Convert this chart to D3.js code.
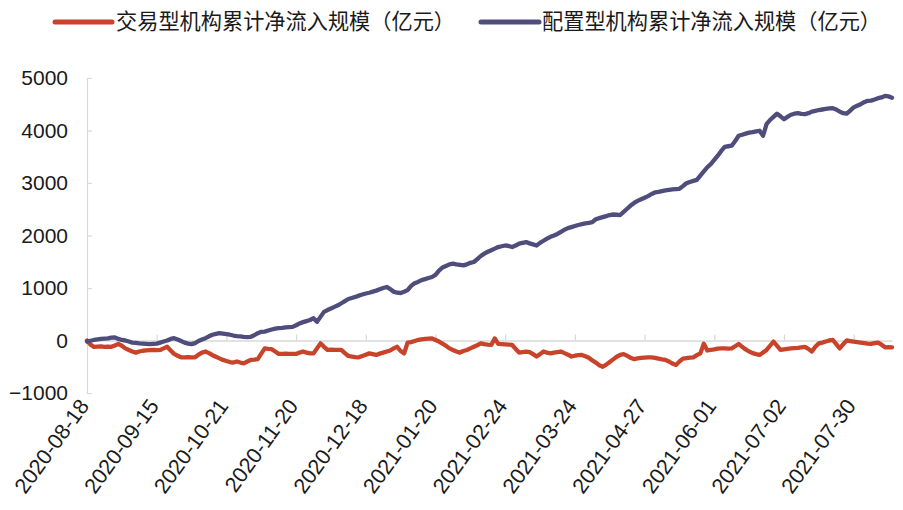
<!DOCTYPE html>
<html><head><meta charset="utf-8">
<script src="https://cdn.jsdelivr.net/npm/d3@7"></script>
<style>
html,body{margin:0;padding:0;background:#fff;}
svg{display:block;}
</style>
</head><body>
<svg id="chart" width="903" height="510"></svg>
<script>
const seriesNames = ["交易型机构累计净流入规模（亿元）", "配置型机构累计净流入规模（亿元）"];
const seriesColors = ["#C9432A", "#4F4D7B"];
const tickLabels = ["2020-08-18","2020-09-15","2020-10-21","2020-11-20","2020-12-18","2021-01-20","2021-02-24","2021-03-24","2021-04-27","2021-06-01","2021-07-02","2021-07-30"];
const labelStep = 20;
const yTicks = [-1000, 0, 1000, 2000, 3000, 4000, 5000];

const tradingFlow = [
0,-80,-120,-115,-110,-120,-115,-120,-95,-65,
-100,-150,-180,-210,-230,-210,-195,-190,-185,-180,
-185,-180,-150,-120,-190,-255,-290,-320,-320,-315,
-320,-320,-270,-230,-210,-240,-280,-310,-340,-370,
-390,-410,-420,-400,-420,-435,-400,-370,-365,-355,
-250,-150,-160,-165,-210,-255,-255,-250,-255,-255,
-255,-230,-210,-230,-245,-245,-150,-55,-120,-180,
-175,-180,-180,-180,-240,-295,-305,-315,-320,-295,
-270,-245,-260,-275,-250,-230,-210,-190,-150,-120,
-200,-245,-40,-30,-10,10,20,30,35,40,
10,-20,-60,-100,-150,-180,-210,-230,-200,-180,
-150,-120,-90,-55,-70,-80,-85,40,-65,-70,
-75,-80,-85,-160,-230,-220,-210,-220,-260,-305,
-260,-210,-230,-245,-230,-220,-210,-240,-270,-305,
-290,-280,-275,-300,-330,-380,-420,-470,-500,-460,
-410,-360,-310,-275,-260,-290,-330,-355,-340,-330,
-325,-320,-320,-330,-345,-360,-370,-400,-440,-465,
-400,-345,-335,-325,-320,-280,-245,-60,-190,-180,
-170,-155,-150,-150,-155,-150,-110,-65,-120,-170,
-210,-240,-260,-275,-230,-180,-100,-20,-100,-180,
-170,-160,-150,-145,-140,-130,-120,-160,-210,-120,
-55,-40,-20,0,10,-70,-150,-70,0,-10,
-20,-30,-40,-50,-60,-65,-50,-40,-80,-130,
-125,-130
];

const allocationFlow = [
-20,-5,10,20,30,35,40,55,60,30,
10,0,-20,-40,-45,-55,-60,-65,-70,-65,
-60,-40,-20,0,30,45,20,-10,-40,-60,
-70,-50,-10,20,45,80,110,125,140,130,
120,110,95,85,80,70,65,70,100,140,
165,170,190,210,225,235,240,250,255,260,
290,325,350,370,390,425,355,450,545,580,
610,640,670,710,750,790,810,830,855,875,
895,910,930,950,975,1000,1020,980,930,910,
905,930,960,1040,1090,1115,1150,1170,1190,1210,
1250,1330,1390,1420,1450,1465,1450,1440,1430,1450,
1480,1495,1550,1610,1655,1690,1720,1750,1780,1795,
1810,1800,1780,1810,1845,1860,1875,1850,1830,1810,
1860,1900,1940,1975,2000,2030,2070,2110,2140,2160,
2180,2200,2215,2230,2240,2255,2310,2330,2350,2370,
2390,2400,2395,2390,2450,2510,2570,2620,2660,2690,
2720,2750,2790,2820,2830,2845,2860,2870,2880,2885,
2890,2940,2995,3020,3040,3060,3140,3220,3300,3360,
3440,3520,3610,3690,3700,3710,3800,3900,3920,3940,
3960,3970,3985,3995,3900,4120,4200,4260,4320,4270,
4215,4260,4300,4320,4330,4315,4310,4330,4360,4375,
4390,4400,4410,4420,4425,4400,4360,4330,4320,4380,
4440,4470,4500,4540,4565,4570,4590,4615,4630,4660,
4650,4625
];

const N = allocationFlow.length;
const svg = d3.select("#chart");
const x = d3.scaleLinear().domain([0, N - 1]).range([87, 892]);
const y = d3.scaleLinear().domain([-1000, 5000]).range([393, 78]);
const axisColor = "#D9D9D9";
const numFont = "'Liberation Sans', Arial, sans-serif";

// Y axis
const yAxis = d3.axisLeft(y).tickValues(yTicks).tickFormat(d3.format("d"))
  .tickSizeInner(-5).tickSizeOuter(-5).tickPadding(19);
const gy = svg.append("g").attr("transform", "translate(87,0)").call(yAxis);
gy.select(".domain").attr("stroke", axisColor).attr("stroke-width", 1.2);
gy.selectAll(".tick line").attr("stroke", axisColor).attr("stroke-width", 1.2);
gy.selectAll(".tick text").attr("font-family", numFont).attr("font-size", 21).attr("fill", "#1a1a1a");

// X (category) axis along zero line
const tickIdx = tickLabels.map((d, i) => i * labelStep);
const xAxis = d3.axisBottom(x).tickValues(tickIdx).tickFormat("").tickSizeInner(-6).tickSizeOuter(0);
const gx = svg.append("g").attr("transform", `translate(0,${y(0)})`).call(xAxis);
gx.select(".domain").attr("stroke", axisColor).attr("stroke-width", 1.5);
gx.selectAll(".tick line").attr("stroke", axisColor).attr("stroke-width", 1.2);

// X labels at bottom, rotated
svg.append("g").selectAll("text").data(tickLabels).join("text")
  .attr("transform", (d, i) => `translate(${x(tickIdx[i]) + 3},${406}) rotate(-54)`)
  .attr("text-anchor", "end")
  .attr("font-family", numFont).attr("font-size", 21.5).attr("fill", "#1a1a1a")
  .text(d => d);

// Lines
const line = d3.line().x((d, i) => x(i)).y(d => y(d));
[tradingFlow, allocationFlow].forEach((s, k) => {
  svg.append("path").datum(s).attr("d", line)
    .attr("fill", "none").attr("stroke", seriesColors[k])
    .attr("stroke-width", 4.3).attr("stroke-linejoin", "round").attr("stroke-linecap", "round");
});

// Legend
const legendX = [[55, 112, 116], [481, 539, 542]];
seriesNames.forEach((name, k) => {
  const [a, b, t] = legendX[k];
  svg.append("line").attr("x1", a).attr("x2", b).attr("y1", 22).attr("y2", 22)
    .attr("stroke", seriesColors[k]).attr("stroke-width", 5).attr("stroke-linecap", "round");
  svg.append("text").attr("x", t).attr("y", 29)
    .attr("font-family", "'Noto Sans CJK SC', sans-serif").attr("font-size", 21.2)
    .attr("fill", "#1a1a1a").text(name);
});
</script>
</body></html>
